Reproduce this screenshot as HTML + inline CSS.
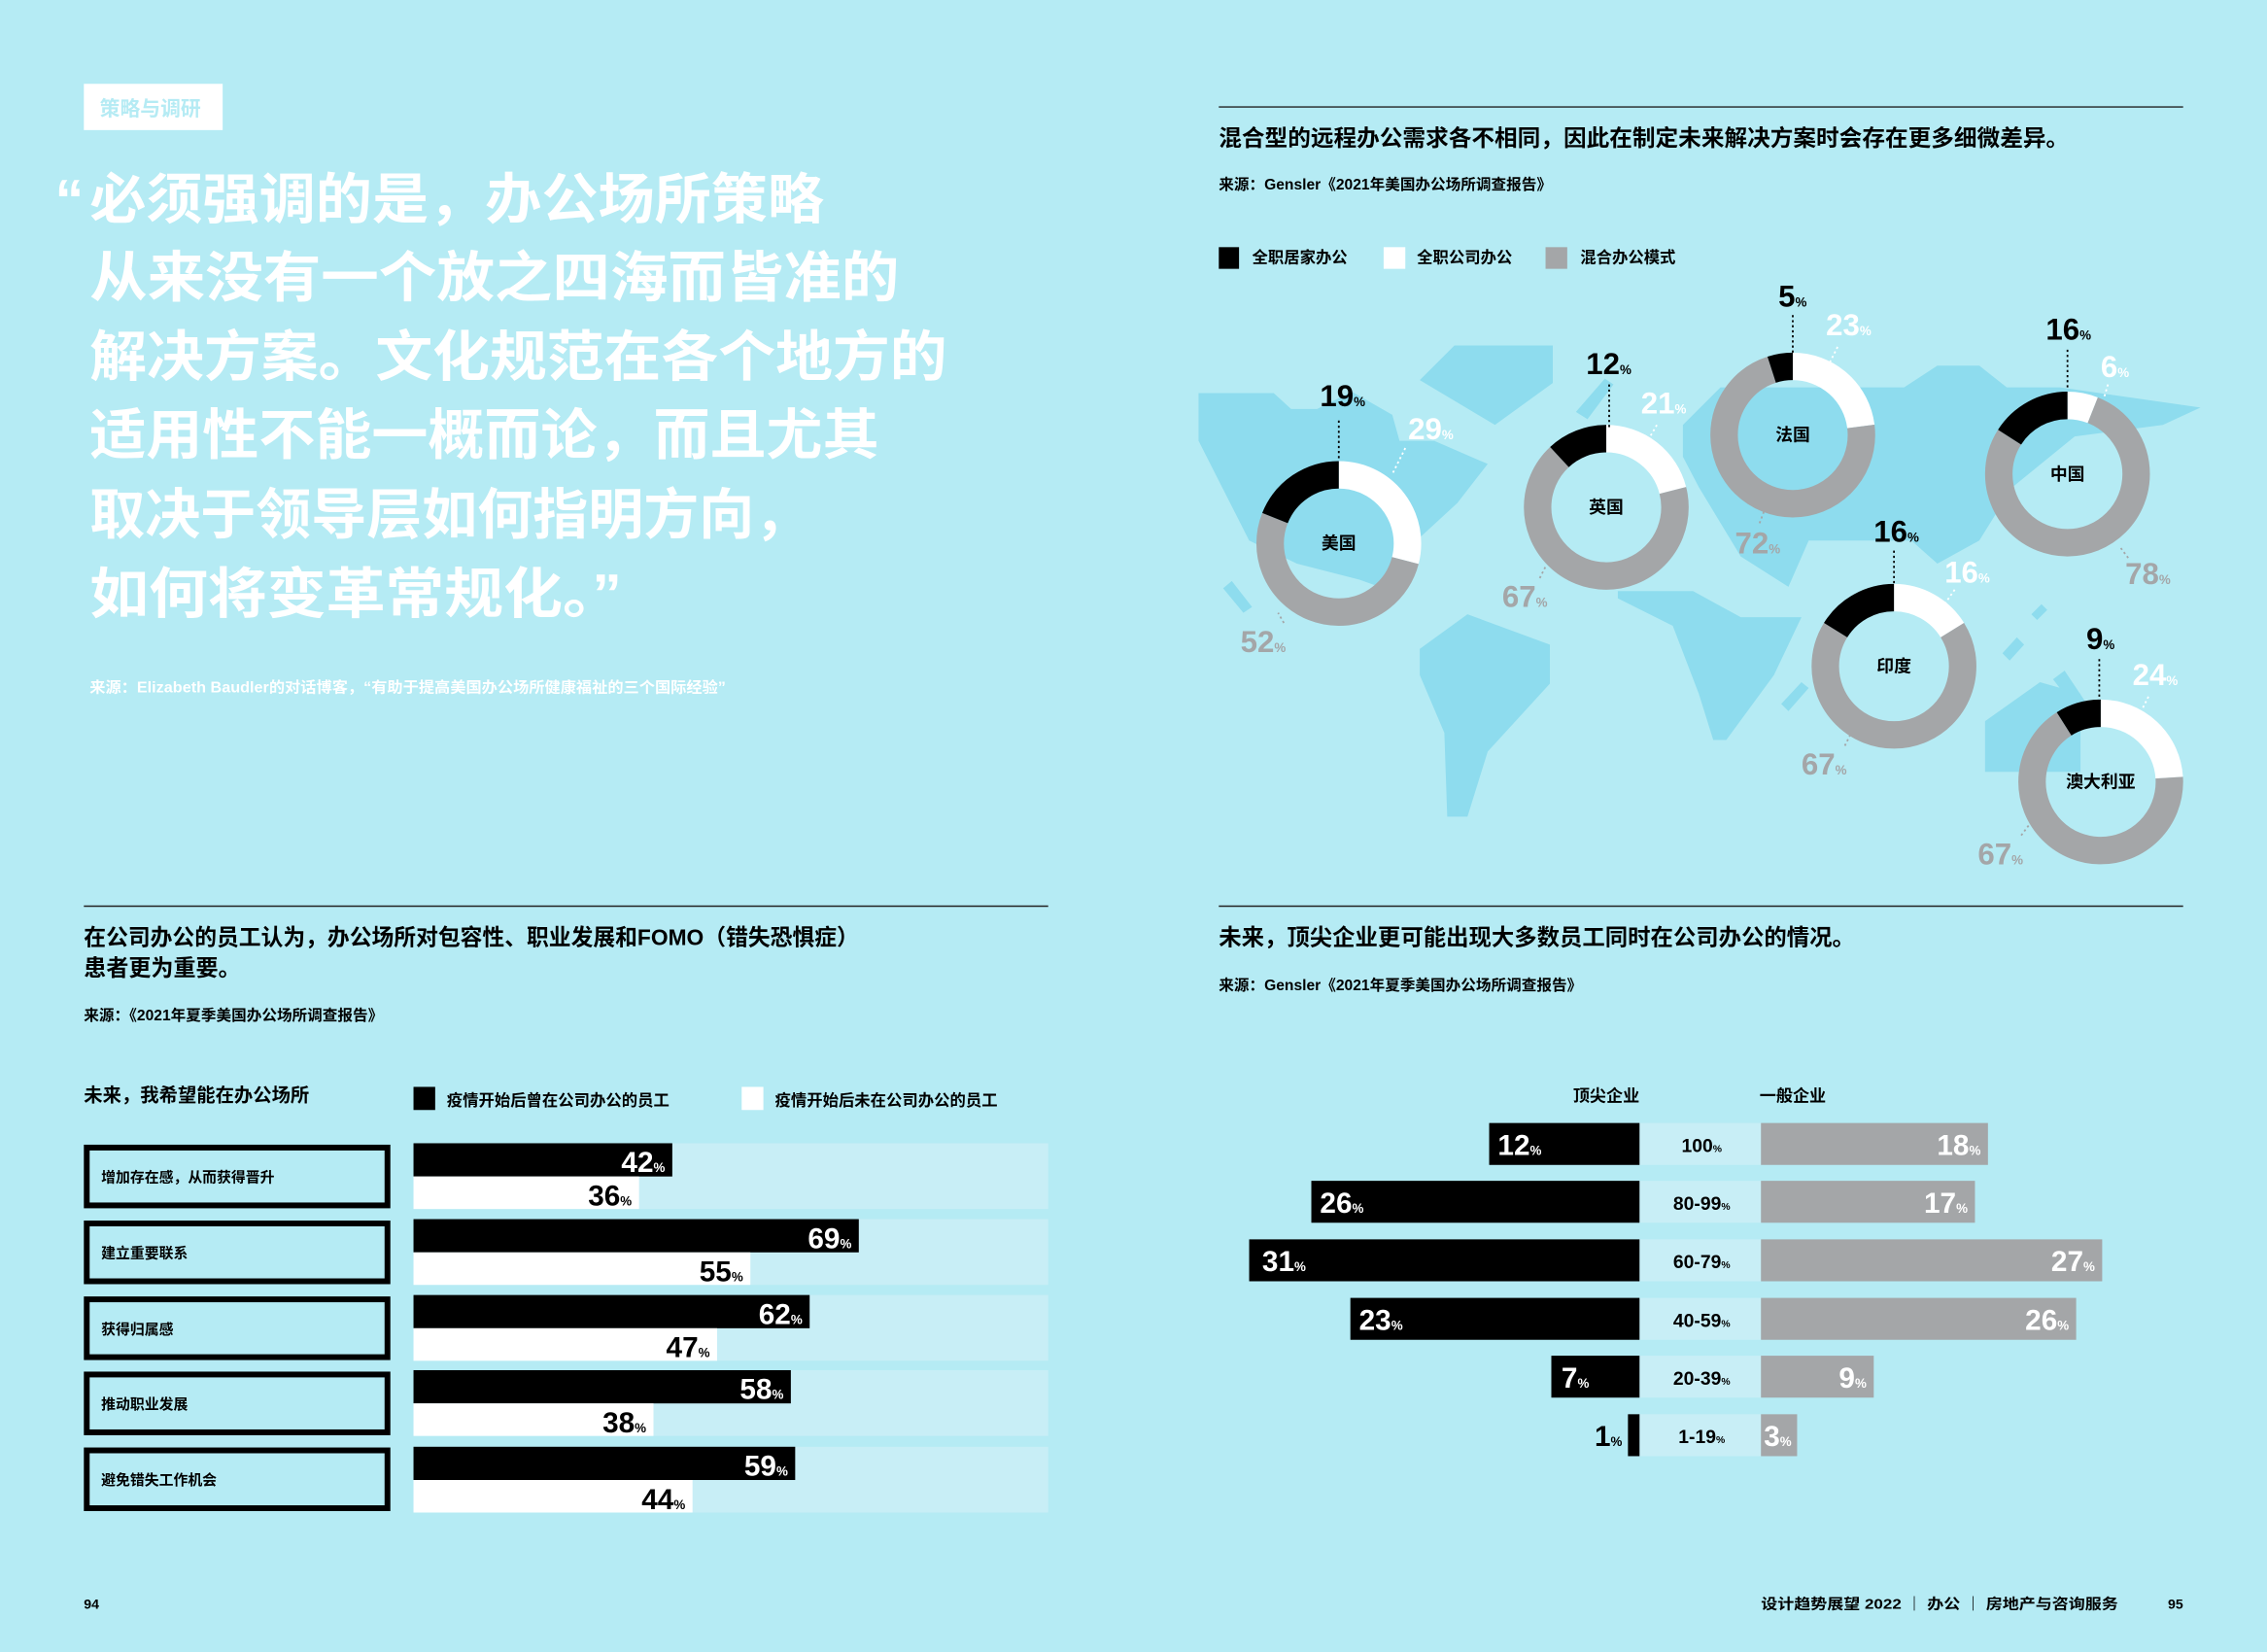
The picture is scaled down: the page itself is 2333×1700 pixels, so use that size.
<!DOCTYPE html>
<html><head><meta charset="utf-8"><style>
html,body{margin:0;padding:0;background:#b5ebf4;}
svg{display:block}
text{font-family:"Liberation Sans","Noto Sans CJK SC",sans-serif;}
.n{font-family:"Liberation Sans Narrow","Liberation Sans","Noto Sans CJK SC",sans-serif;font-weight:bold;}
.b{font-weight:bold}
</style></head><body>
<svg width="2333" height="1700" viewBox="0 0 1568 1143" preserveAspectRatio="none" xmlns="http://www.w3.org/2000/svg">
<rect width="1568" height="1143" fill="#b5ebf4"/>

<!-- LEFT QUOTE -->
<rect x="58" y="58" width="96" height="32" fill="#fff"/>
<text x="69" y="80" font-size="14" fill="#b5ebf4" class="b">策略与调研</text>
<g fill="#fff" font-size="38" class="b">
<text x="38" y="152" font-size="40">“</text>
<text x="62" y="151" textLength="508" lengthAdjust="spacingAndGlyphs">必须强调的是，办公场所策略</text>
<text x="62" y="205" textLength="560" lengthAdjust="spacingAndGlyphs">从来没有一个放之四海而皆准的</text>
<text x="62" y="260" textLength="593" lengthAdjust="spacingAndGlyphs">解决方案。文化规范在各个地方的</text>
<text x="62" y="314" textLength="546" lengthAdjust="spacingAndGlyphs">适用性不能一概而论，而且尤其</text>
<text x="62" y="369" textLength="498" lengthAdjust="spacingAndGlyphs">取决于领导层如何指明方向，</text>
<text x="62" y="424" textLength="368" lengthAdjust="spacingAndGlyphs">如何将变革常规化。”</text>
</g>
<text x="62" y="479" font-size="10.5" fill="#fff" class="b" textLength="440" lengthAdjust="spacingAndGlyphs">来源：Elizabeth Baudler的对话博客，“有助于提高美国办公场所健康福祉的三个国际经验”</text>

<!-- TOP RIGHT -->
<line x1="843" y1="74" x2="1510" y2="74" stroke="#222" stroke-width="1"/>
<text x="843" y="101" font-size="15.5" class="b" textLength="588" lengthAdjust="spacingAndGlyphs">混合型的远程办公需求各不相同，因此在制定未来解决方案时会存在更多细微差异。</text>
<text x="843" y="131" font-size="10.5" class="b">来源：Gensler《2021年美国办公场所调查报告》</text>
<rect x="843" y="171" width="14" height="15" fill="#000"/>
<text x="866" y="182" font-size="11" class="b">全职居家办公</text>
<rect x="957" y="171" width="15" height="15" fill="#fff"/>
<text x="980" y="182" font-size="11" class="b">全职公司办公</text>
<rect x="1069" y="171" width="15" height="15" fill="#a4a6a8"/>
<text x="1093" y="182" font-size="11" class="b">混合办公模式</text>

<!-- MAP -->
<g fill="#8edcee">
<polygon points="829,272 881,272 893,283 911,283 935,271 963,287 968,305 992,305 1029,321 1008,348 982,372 968,411 940,401 897,390 864,374 829,305"/>
<polygon points="982,449 1015,425 1072,446 1072,473 1029,520 1015,565 1001,565 999,507 982,467"/>
<polygon points="982,263 1006,239 1074,239 1074,265 1034,294"/>
<polygon points="1164,294 1190,268 1317,268 1340,253 1369,253 1388,268 1425,268 1522,282 1496,294 1435,302 1392,337 1369,374 1340,390 1322,374 1251,374 1237,406 1204,385 1175,337 1164,316"/>
<polygon points="1119,409 1171,409 1204,427 1246,427 1227,467 1194,512 1185,512 1175,480 1157,433 1119,414"/>
<polygon points="1373,499 1411,472 1439,480 1439,534 1373,534"/>
<polygon points="1090,285 1110,262 1116,266 1098,290"/>
<polygon points="846,407 852,402 866,420 860,424"/>
<polygon points="1232,487 1246,472 1251,476 1237,492"/>
<polygon points="1385,452 1395,441 1400,446 1390,457"/>
<polygon points="1405,425 1412,418 1416,422 1409,429"/>
<polygon points="1420,470 1428,464 1444,488 1437,492"/>
</g>

<!-- DONUTS -->
<g fill="none" stroke-width="19">
<g transform="rotate(-90 926 376)">
<circle cx="926" cy="376" r="47.5" stroke="#fff" stroke-dasharray="86.55 400"/>
<circle cx="926" cy="376" r="47.5" stroke="#a4a6a8" stroke-dasharray="155.2 400" stroke-dashoffset="-86.55"/>
<circle cx="926" cy="376" r="47.5" stroke="#000" stroke-dasharray="56.7 400" stroke-dashoffset="-241.75"/>
</g>
<g transform="rotate(-90 1111 351)">
<circle cx="1111" cy="351" r="47.5" stroke="#fff" stroke-dasharray="62.7 400"/>
<circle cx="1111" cy="351" r="47.5" stroke="#a4a6a8" stroke-dasharray="200 400" stroke-dashoffset="-62.7"/>
<circle cx="1111" cy="351" r="47.5" stroke="#000" stroke-dasharray="35.8 400" stroke-dashoffset="-262.7"/>
</g>
<g transform="rotate(-90 1240 301)">
<circle cx="1240" cy="301" r="47.5" stroke="#fff" stroke-dasharray="68.6 400"/>
<circle cx="1240" cy="301" r="47.5" stroke="#a4a6a8" stroke-dasharray="214.9 400" stroke-dashoffset="-68.6"/>
<circle cx="1240" cy="301" r="47.5" stroke="#000" stroke-dasharray="15 400" stroke-dashoffset="-283.5"/>
</g>
<g transform="rotate(-90 1430 328)">
<circle cx="1430" cy="328" r="47.5" stroke="#fff" stroke-dasharray="17.9 400"/>
<circle cx="1430" cy="328" r="47.5" stroke="#a4a6a8" stroke-dasharray="232.8 400" stroke-dashoffset="-17.9"/>
<circle cx="1430" cy="328" r="47.5" stroke="#000" stroke-dasharray="47.8 400" stroke-dashoffset="-250.7"/>
</g>
<g transform="rotate(-90 1310 461)">
<circle cx="1310" cy="461" r="47.5" stroke="#fff" stroke-dasharray="48.2 400"/>
<circle cx="1310" cy="461" r="47.5" stroke="#a4a6a8" stroke-dasharray="201.9 400" stroke-dashoffset="-48.2"/>
<circle cx="1310" cy="461" r="47.5" stroke="#000" stroke-dasharray="48.3 400" stroke-dashoffset="-250.1"/>
</g>
<g transform="rotate(-90 1453 541)">
<circle cx="1453" cy="541" r="47.5" stroke="#fff" stroke-dasharray="71.6 400"/>
<circle cx="1453" cy="541" r="47.5" stroke="#a4a6a8" stroke-dasharray="200 400" stroke-dashoffset="-71.6"/>
<circle cx="1453" cy="541" r="47.5" stroke="#000" stroke-dasharray="26.9 400" stroke-dashoffset="-271.6"/>
</g>
</g>
<g font-size="12" class="b" text-anchor="middle">
<text x="926" y="380">美国</text>
<text x="1111" y="355">英国</text>
<text x="1240" y="305">法国</text>
<text x="1430" y="332">中国</text>
<text x="1310" y="465">印度</text>
<text x="1453" y="545">澳大利亚</text>
</g>
<g stroke-width="1.2" stroke-dasharray="1.5 2" fill="none">
<path d="M926 291V318M1113 266V296M1240 218V246M1430 242V270M1310 381V404M1452 456V484" stroke="#000"/>
<path d="M972 310L963 328M1146 294L1139 306M1271 240L1265 252M1458 266L1455 276M1352 408L1345 418M1486 482L1482 490" stroke="#fff"/>
<path d="M888 431L884 424M1065 400L1069 392M1217 362L1220 354M1472 386L1466 378M1276 516L1280 508M1398 578L1404 570" stroke="#a4a6a8"/>
</g>
<g class="n" font-size="21">
<text x="913" y="281">19<tspan font-size="9">%</tspan></text>
<text x="974" y="304" fill="#fff">29<tspan font-size="9">%</tspan></text>
<text x="858" y="451" fill="#a4a6a8">52<tspan font-size="9">%</tspan></text>
<text x="1097" y="259">12<tspan font-size="9">%</tspan></text>
<text x="1135" y="286" fill="#fff">21<tspan font-size="9">%</tspan></text>
<text x="1039" y="420" fill="#a4a6a8">67<tspan font-size="9">%</tspan></text>
<text x="1230" y="212">5<tspan font-size="9">%</tspan></text>
<text x="1263" y="232" fill="#fff">23<tspan font-size="9">%</tspan></text>
<text x="1200" y="383" fill="#a4a6a8">72<tspan font-size="9">%</tspan></text>
<text x="1415" y="235">16<tspan font-size="9">%</tspan></text>
<text x="1453" y="261" fill="#fff">6<tspan font-size="9">%</tspan></text>
<text x="1470" y="404" fill="#a4a6a8">78<tspan font-size="9">%</tspan></text>
<text x="1296" y="375">16<tspan font-size="9">%</tspan></text>
<text x="1345" y="403" fill="#fff">16<tspan font-size="9">%</tspan></text>
<text x="1246" y="536" fill="#a4a6a8">67<tspan font-size="9">%</tspan></text>
<text x="1443" y="449">9<tspan font-size="9">%</tspan></text>
<text x="1475" y="474" fill="#fff">24<tspan font-size="9">%</tspan></text>
<text x="1368" y="598" fill="#a4a6a8">67<tspan font-size="9">%</tspan></text>
</g>

<!-- BOTTOM LEFT -->
<line x1="58" y1="627" x2="725" y2="627" stroke="#222" stroke-width="1"/>
<text x="58" y="654" font-size="15.5" class="b" textLength="536" lengthAdjust="spacingAndGlyphs">在公司办公的员工认为，办公场所对包容性、职业发展和FOMO（错失恐惧症）</text>
<text x="58" y="675" font-size="15.5" class="b">患者更为重要。</text>
<text x="58" y="706" font-size="10.5" class="b">来源：《2021年夏季美国办公场所调查报告》</text>
<text x="58" y="762" font-size="13" class="b">未来，我希望能在办公场所</text>
<rect x="286" y="752" width="15" height="16" fill="#000"/>
<text x="309" y="765" font-size="11" class="b">疫情开始后曾在公司办公的员工</text>
<rect x="513" y="752" width="15" height="16" fill="#fff"/>
<text x="536" y="765" font-size="11" class="b">疫情开始后未在公司办公的员工</text>

<g fill="none" stroke="#000" stroke-width="4">
<rect x="60" y="794" width="208" height="40"/>
<rect x="60" y="846.5" width="208" height="40"/>
<rect x="60" y="899" width="208" height="40"/>
<rect x="60" y="951" width="208" height="40"/>
<rect x="60" y="1003.5" width="208" height="40"/>
</g>
<g font-size="10" class="b">
<text x="70" y="818">增加存在感，从而获得晋升</text>
<text x="70" y="870.5">建立重要联系</text>
<text x="70" y="923">获得归属感</text>
<text x="70" y="975">推动职业发展</text>
<text x="70" y="1027.5">避免错失工作机会</text>
</g>
<g fill="#c8eef6">
<rect x="286" y="791" width="439" height="45.5"/>
<rect x="286" y="843.5" width="439" height="45.5"/>
<rect x="286" y="896" width="439" height="45.5"/>
<rect x="286" y="948" width="439" height="45.5"/>
<rect x="286" y="1001" width="439" height="45.5"/>
</g>
<g fill="#000">
<rect x="286" y="791" width="179" height="23"/>
<rect x="286" y="843.5" width="308" height="23"/>
<rect x="286" y="896" width="274" height="23"/>
<rect x="286" y="948" width="261" height="23"/>
<rect x="286" y="1001" width="264" height="23"/>
</g>
<g fill="#fff">
<rect x="286" y="814" width="156" height="22.5"/>
<rect x="286" y="866.5" width="233" height="22.5"/>
<rect x="286" y="919" width="210" height="22.5"/>
<rect x="286" y="971" width="166" height="22.5"/>
<rect x="286" y="1024" width="193" height="22.5"/>
</g>
<g class="n" font-size="20" text-anchor="end">
<g fill="#fff">
<text x="460" y="811">42<tspan font-size="9">%</tspan></text>
<text x="589" y="863.5">69<tspan font-size="9">%</tspan></text>
<text x="555" y="916">62<tspan font-size="9">%</tspan></text>
<text x="542" y="968">58<tspan font-size="9">%</tspan></text>
<text x="545" y="1021">59<tspan font-size="9">%</tspan></text>
</g>
<text x="437" y="834">36<tspan font-size="9">%</tspan></text>
<text x="514" y="886.5">55<tspan font-size="9">%</tspan></text>
<text x="491" y="939">47<tspan font-size="9">%</tspan></text>
<text x="447" y="991">38<tspan font-size="9">%</tspan></text>
<text x="474" y="1044">44<tspan font-size="9">%</tspan></text>
</g>

<!-- BOTTOM RIGHT -->
<line x1="843" y1="627" x2="1510" y2="627" stroke="#222" stroke-width="1"/>
<text x="843" y="654" font-size="15.5" class="b" textLength="440" lengthAdjust="spacingAndGlyphs">未来，顶尖企业更可能出现大多数员工同时在公司办公的情况。</text>
<text x="843" y="685" font-size="10.5" class="b">来源：Gensler《2021年夏季美国办公场所调查报告》</text>
<text x="1111" y="762" font-size="11.5" class="b" text-anchor="middle">顶尖企业</text>
<text x="1240" y="762" font-size="11.5" class="b" text-anchor="middle">一般企业</text>
<g fill="#c8eef6">
<rect x="1134" y="777" width="84" height="29"/>
<rect x="1134" y="817" width="84" height="29"/>
<rect x="1134" y="857.5" width="84" height="29"/>
<rect x="1134" y="898" width="84" height="29"/>
<rect x="1134" y="938" width="84" height="29"/>
<rect x="1134" y="978.5" width="84" height="29"/>
</g>
<g fill="#000">
<rect x="1030" y="777" width="104" height="29"/>
<rect x="907" y="817" width="227" height="29"/>
<rect x="864" y="857.5" width="270" height="29"/>
<rect x="934" y="898" width="200" height="29"/>
<rect x="1073" y="938" width="61" height="29"/>
<rect x="1126" y="978.5" width="8" height="29"/>
</g>
<g fill="#a4a6a8">
<rect x="1218" y="777" width="157" height="29"/>
<rect x="1218" y="817" width="148" height="29"/>
<rect x="1218" y="857.5" width="236" height="29"/>
<rect x="1218" y="898" width="218" height="29"/>
<rect x="1218" y="938" width="78" height="29"/>
<rect x="1218" y="978.5" width="25" height="29"/>
</g>
<g class="n" font-size="13" text-anchor="middle">
<text x="1177" y="797">100<tspan font-size="7">%</tspan></text>
<text x="1177" y="837">80-99<tspan font-size="7">%</tspan></text>
<text x="1177" y="877.5">60-79<tspan font-size="7">%</tspan></text>
<text x="1177" y="918">40-59<tspan font-size="7">%</tspan></text>
<text x="1177" y="958">20-39<tspan font-size="7">%</tspan></text>
<text x="1177" y="998.5">1-19<tspan font-size="7">%</tspan></text>
</g>
<g class="n" font-size="20" fill="#fff">
<text x="1036" y="799">12<tspan font-size="9">%</tspan></text>
<text x="913" y="839">26<tspan font-size="9">%</tspan></text>
<text x="873" y="879.5">31<tspan font-size="9">%</tspan></text>
<text x="940" y="920">23<tspan font-size="9">%</tspan></text>
<text x="1080" y="960">7<tspan font-size="9">%</tspan></text>
<text x="1220" y="1000.5">3<tspan font-size="9">%</tspan></text>
<g text-anchor="end">
<text x="1370" y="799">18<tspan font-size="9">%</tspan></text>
<text x="1361" y="839">17<tspan font-size="9">%</tspan></text>
<text x="1449" y="879.5">27<tspan font-size="9">%</tspan></text>
<text x="1431" y="920">26<tspan font-size="9">%</tspan></text>
<text x="1291" y="960">9<tspan font-size="9">%</tspan></text>
</g>
<text x="1122" y="1000.5" fill="#000" text-anchor="end">1<tspan font-size="9">%</tspan></text>
</g>

<!-- FOOTER -->
<text x="58" y="1113" font-size="9.5" class="b">94</text>
<text x="1218" y="1113" font-size="10" class="b" textLength="247" lengthAdjust="spacingAndGlyphs">设计趋势展望 2022 ｜ 办公 ｜ 房地产与咨询服务</text>
<text x="1510" y="1113" font-size="9.5" class="b" text-anchor="end">95</text>
</svg>
</body></html>
